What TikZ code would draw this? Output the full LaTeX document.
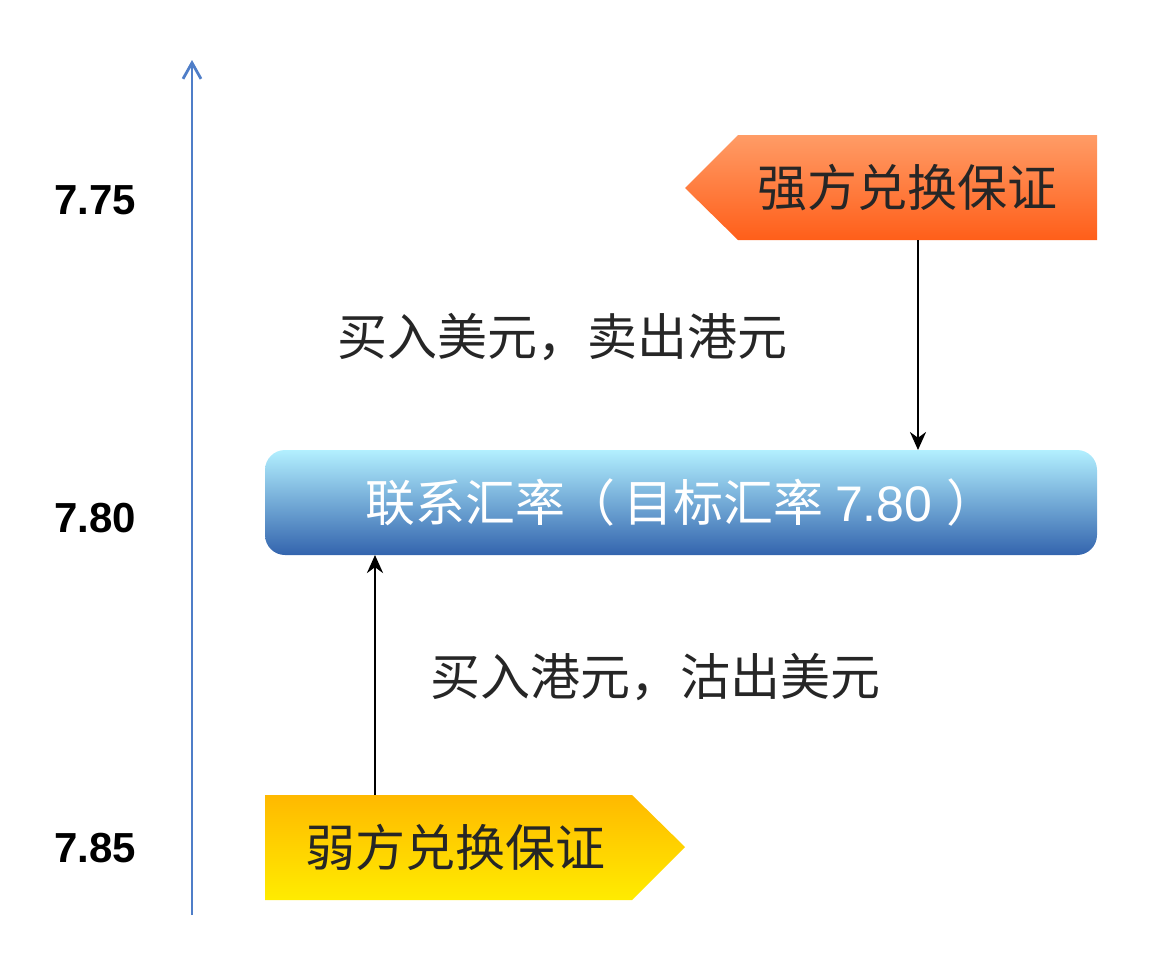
\documentclass[tikz,border=0pt]{standalone}
\usepackage{fontspec}
\setmainfont{Liberation Sans}
\newfontfamily\cjk{Noto Sans CJK SC}
\usetikzlibrary{arrows.meta}
\definecolor{axisblue}{HTML}{4F7EC8}
\tikzset{
  lbl/.style={font=\cjk\fontsize{25}{28}\selectfont, text=black!85},
  tick/.style={font=\bfseries\fontsize{21}{24}\selectfont, text=black},
  conn/.style={draw=black, line width=1.4pt, -{Stealth[length=9pt,width=8pt]}}
}
\begin{document}
\begin{tikzpicture}[x=0.5pt,y=-0.5pt]
\useasboundingbox (0,0) rectangle (1152,970);
% axis
\coordinate (ax0) at (192,915);
\coordinate (ax1) at (192,60);
\draw[axisblue, line width=1.4pt, -{Straight Barb[length=8pt,width=9pt]}] (ax0) -- (ax1);
\node[tick] (t1) at (95,200) {7.75};
\node[tick] (t2) at (95,518) {7.80};
\node[tick] (t3) at (95,848) {7.85};
% orange pentagon
\shade[top color=orange!70!red!60, bottom color=orange!60!red!90, draw=none]
  (685,188) -- (738,135) -- (1097,135) -- (1097,240) -- (738,240) -- cycle;
\node[lbl] (strong) at (907,188) {强方兑换保证};
\coordinate (strongb) at (918,240);
% blue box
\shade[top color=blue!20!cyan!30!white, bottom color=blue!60!cyan!60!black!80, rounded corners=10pt]
  (265,450) rectangle (1097,555);
\node[font=\cjk\fontsize{25}{28}\selectfont, text=white] (link) at (681,502) {联系汇率（\,目标汇率\ \fontspec{Liberation Sans}7.80\ \cjk）};
\coordinate (linkt) at (918,450);
\coordinate (linkb) at (375,555);
% yellow pentagon
\shade[top color=orange!55!yellow, bottom color=yellow!85!orange, draw=none]
  (265,795) -- (632,795) -- (685,847) -- (632,900) -- (265,900) -- cycle;
\node[lbl] (weak) at (455,847) {弱方兑换保证};
\coordinate (weakt) at (375,795);
% connectors
\draw[conn] (strongb) -- (linkt);
\draw[conn] (weakt) -- (linkb);
\node[lbl] (l1) at (562,337) {买入美元，卖出港元};
\node[lbl] (l2) at (655,677) {买入港元，沽出美元};
\end{tikzpicture}
\end{document}
